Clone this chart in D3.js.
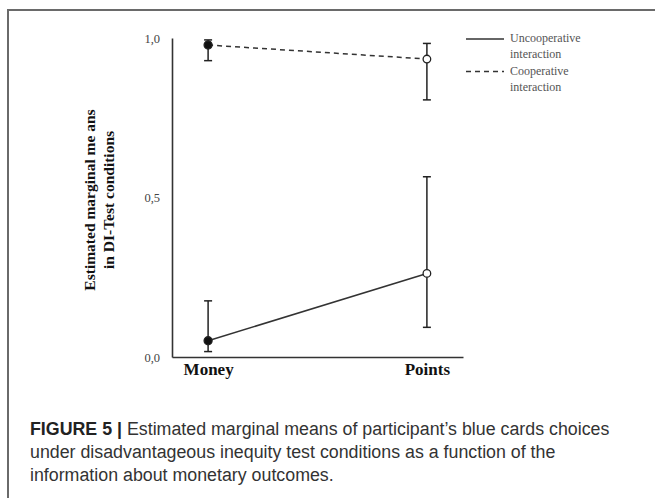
<!DOCTYPE html>
<html><head><meta charset="utf-8">
<script src="https://cdn.jsdelivr.net/npm/d3@7/dist/d3.min.js"></script>
<style>body{margin:0;background:#fff}svg{display:block}</style>
</head><body>
<svg id="c" width="655" height="498"></svg>
<script>
const categories = ["Money", "Points"];
const seriesNames = ["Uncooperative interaction", "Cooperative interaction"];
const uncoopMean = [0.051, 0.262];
const uncoopLow = [0.017, 0.093];
const uncoopHigh = [0.176, 0.565];
const coopMean = [0.978, 0.934];
const coopLow = [0.929, 0.806];
const coopHigh = [0.994, 0.983];
const yTicks = [0, 0.5, 1.0];
const yTickLabels = ["0,0", "0,5", "1,0"];

const svg = d3.select("#c");
// figure frame
svg.append("path").attr("d","M8,498 V10 H655").attr("fill","none").attr("stroke","#6a6a6a").attr("stroke-width",2);

const x = d3.scalePoint().domain(categories).range([172,463]).padding(0.165);
const y = d3.scaleLinear().domain([0,1]).range([357,38]);

const serif = "'Liberation Serif','DejaVu Serif',serif";
// y axis
const ya = svg.append("g").attr("transform","translate(172,0)")
  .call(d3.axisLeft(y).tickValues(yTicks).tickSize(0).tickPadding(12)
    .tickFormat((d,i)=>yTickLabels[i]));
ya.select(".domain").attr("stroke","#333").attr("stroke-width",1.6);
ya.selectAll("text").attr("font-family",serif).attr("font-size",12.5).attr("fill","#444");
// x axis
const xa = svg.append("g").attr("transform","translate(0,357)")
  .call(d3.axisBottom(x).tickSize(0).tickPadding(6));
xa.select(".domain").attr("stroke","#333").attr("stroke-width",1.6);
xa.selectAll("text").attr("font-family",serif).attr("font-size",17).attr("font-weight","bold").attr("fill","#111");

// y title
const yt = svg.append("text").attr("transform","translate(95,200) rotate(-90)")
  .attr("text-anchor","middle").attr("font-family",serif).attr("font-weight","bold")
  .attr("font-size",15.5).attr("fill","#111");
yt.append("tspan").attr("x",0).attr("dy",0).text("Estimated marginal me ans");
yt.append("tspan").attr("x",0).attr("dy",19).text("in DI-Test conditions");

const series = [
  {mean: uncoopMean, low: uncoopLow, high: uncoopHigh, dash: null},
  {mean: coopMean, low: coopLow, high: coopHigh, dash: "5,4"}
];
const line = d3.line().x((d,i)=>x(categories[i])).y(d=>y(d));
series.forEach(s=>{
  svg.append("path").attr("d",line(s.mean)).attr("fill","none")
    .attr("stroke","#333").attr("stroke-width",1.5).attr("stroke-dasharray",s.dash);
  categories.forEach((c,i)=>{
    const cx = x(c);
    const g = svg.append("g").attr("stroke","#222").attr("stroke-width",1.5);
    g.append("line").attr("x1",cx).attr("x2",cx).attr("y1",y(s.low[i])).attr("y2",y(s.high[i]));
    g.append("line").attr("x1",cx-4).attr("x2",cx+4).attr("y1",y(s.low[i])).attr("y2",y(s.low[i]));
    g.append("line").attr("x1",cx-4).attr("x2",cx+4).attr("y1",y(s.high[i])).attr("y2",y(s.high[i]));
    svg.append("circle").attr("cx",cx).attr("cy",y(s.mean[i])).attr("r",i===0?4:3.8)
      .attr("fill",i===0?"#111":"#fff").attr("stroke","#222").attr("stroke-width",1.3);
  });
});

// legend
const leg = svg.append("g");
[[39,null],[71.5,"5,4"]].forEach((d,i)=>{
  leg.append("line").attr("x1",466).attr("x2",504).attr("y1",d[0]).attr("y2",d[0])
    .attr("stroke","#333").attr("stroke-width",1.3).attr("stroke-dasharray",d[1]);
  const words = seriesNames[i].split(" ");
  const t = leg.append("text").attr("font-family",serif).attr("font-size",12).attr("fill","#555");
  t.append("tspan").attr("x",510).attr("y",d[0]+3).text(words[0]);
  t.append("tspan").attr("x",510).attr("y",d[0]+19).text(words[1]);
});

// caption
const sans = "'Liberation Sans','Arimo',Arial,sans-serif";
const capLines = [
  ["FIGURE 5 | ", "Estimated marginal means of participant\u2019s blue cards choices"],
  [null, "under disadvantageous inequity test conditions as a function of the"],
  [null, "information about monetary outcomes."]
];
const capTexts = capLines.map((l,i)=>{
  const t = svg.append("text").attr("x",30).attr("y",435+i*23).attr("font-family",sans)
    .attr("font-size",17).attr("fill","#333");
  if(l[0]) t.append("tspan").attr("font-weight","bold").attr("fill","#222").text(l[0]);
  t.append("tspan").text(l[1]);
  return t;
});
// fit first line to span to x≈610
const w = capTexts[0].node().getComputedTextLength();
const fs = 17 * (610 - 30) / w;
capTexts.forEach(t=>t.attr("font-size",fs));
</script>
</body></html>
